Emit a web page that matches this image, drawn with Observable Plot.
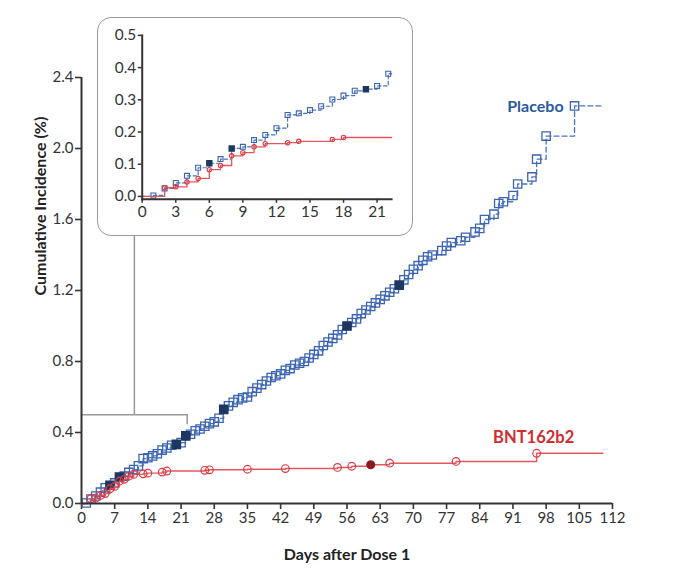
<!DOCTYPE html>
<html><head><meta charset="utf-8">
<script src="https://cdn.jsdelivr.net/npm/d3@7"></script>
<script src="https://cdn.jsdelivr.net/npm/@observablehq/plot@0.6"></script>
<style>
body{margin:0;background:#fff;}
#wrap{position:relative;width:682px;height:588px;font-family:Lato,sans-serif;}
#inset{position:absolute;left:97px;top:17px;width:316px;height:219px;background:#fff;border:1.5px solid #9a9a9a;border-radius:14px;box-sizing:border-box;}
#inset svg{position:absolute;left:-1.5px;top:-1.5px;}
</style></head>
<body><div id="wrap"><div id="main"></div><div id="inset"></div></div>
<script>
// ---- data ----
const placeboDays = [1,2,3,4,5,6,7,8,9,10,11,12,13,14,15,16,17,18,19,20,21,22,23,24,25,26,27,28,29,30,31,32,33,34,35,36,37,38,39,40,41,42,43,44,45,46,47,48,49,50,51,52,53,54,55,56,57,58,59,60,61,62,63,64,65,66,67,68,69,70,71,72,73,74,76,77,78,80,81,83,84,85,87,88,89,91,92,95,96,98,104];
const placeboValues = [0.003,0.025,0.042,0.064,0.089,0.103,0.116,0.149,0.154,0.175,0.191,0.212,0.253,0.258,0.268,0.28,0.301,0.313,0.328,0.333,0.343,0.381,0.39,0.41,0.42,0.435,0.45,0.46,0.48,0.53,0.55,0.57,0.585,0.595,0.60,0.63,0.65,0.67,0.69,0.71,0.72,0.73,0.75,0.76,0.78,0.79,0.80,0.82,0.84,0.86,0.89,0.91,0.93,0.95,0.98,1.0,1.02,1.04,1.07,1.09,1.11,1.13,1.15,1.17,1.19,1.21,1.23,1.26,1.29,1.32,1.34,1.37,1.39,1.40,1.425,1.45,1.47,1.48,1.50,1.53,1.55,1.60,1.63,1.69,1.70,1.735,1.80,1.84,1.94,2.07,2.24];
const placeboFilledMain = [6,8,20,22,30,56,67];
const placeboFilledInset = [6,8,20];
const bntDays = [2,3,4,5,6,7,8,9,10,11,13,14,17,18,26,27,35,43,54,57,61,65,79,96];
const bntValues = [0.027,0.030,0.045,0.056,0.083,0.096,0.126,0.136,0.154,0.164,0.167,0.171,0.177,0.183,0.187,0.19,0.193,0.197,0.203,0.21,0.218,0.227,0.237,0.283];
const bntFilledMain = [61];
const followUpEnd = 110;
const xTicksMain = [0,7,14,21,28,35,42,49,56,63,70,77,84,91,98,105,112];
const yTicksMain = [0,0.4,0.8,1.2,1.6,2.0,2.4];
const xTicksInset = [0,3,6,9,12,15,18,21];
const yTicksInset = [0,0.1,0.2,0.3,0.4,0.5];
const insetX = [0,22.3];
const insetY = [0,0.5];

// ---- build tables ----
const placebo = placeboDays.map((d,i)=>({day:d,value:placeboValues[i]}));
const bnt = bntDays.map((d,i)=>({day:d,value:bntValues[i]}));
function lineData(pts,end){
  return [{day:0,value:0},...pts,{day:end,value:pts[pts.length-1].value}];
}
function clipTo(pts,end){
  const inside = pts.filter(p=>p.day<=end);
  return lineData(inside,end);
}
const BLUE="#3b64b3", BLUE_LINE="#4a74bf", NAVY="#1d3763", RED="#dc3a40", RED_LINE="#e4585d", DARKRED="#8a1c1c", AX="#333";
const font = "Lato, 'Open Sans', sans-serif";

const main = Plot.plot({
  width:682, height:588,
  marginLeft:81, marginRight:70, marginTop:77, marginBottom:85,
  style:{fontFamily:font, fontSize:"15px", color:AX, background:"#fff", overflow:"visible"},
  x:{domain:[0,112]},
  y:{domain:[0,2.4]},
  marks:[
    Plot.axisX({ticks:xTicksMain, tickSize:6, tickPadding:3, label:null, stroke:AX, strokeWidth:1.6, fill:AX, fontSize:15, tickFormat:d=>String(d)}),
    Plot.axisY({ticks:yTicksMain, tickSize:6, tickPadding:2, label:null, stroke:AX, strokeWidth:1.6, fill:AX, fontSize:15, tickFormat:d=>d.toFixed(1)}),
    // zoom bracket and connector to inset
    Plot.line([[insetX[0],insetY[1]],[insetX[1],insetY[1]],[insetX[1],insetY[1]-0.05]], {stroke:"#9a9a9a", strokeWidth:1.5}),
    Plot.ruleX([(insetX[0]+insetX[1])/2], {y1:insetY[1], y2:2.4, stroke:"#9a9a9a", strokeWidth:1.5}),
    // placebo
    Plot.line(lineData(placebo,followUpEnd), {x:"day", y:"value", curve:"step-after", stroke:BLUE_LINE, strokeWidth:1.3, strokeDasharray:"5,3"}),
    Plot.dot(placebo.filter(p=>!placeboFilledMain.includes(p.day)), {x:"day", y:"value", symbol:"square", r:4.7, stroke:BLUE, strokeWidth:1.3, fill:"none"}),
    Plot.dot(placebo.filter(p=>placeboFilledMain.includes(p.day)), {x:"day", y:"value", symbol:"square", r:4.7, stroke:NAVY, strokeWidth:1.3, fill:NAVY}),
    // BNT162b2
    Plot.line(lineData(bnt,followUpEnd), {x:"day", y:"value", curve:"step-after", stroke:RED_LINE, strokeWidth:1.4}),
    Plot.dot(bnt.filter(p=>!bntFilledMain.includes(p.day)), {x:"day", y:"value", r:3.8, stroke:RED, strokeWidth:1.2, fill:"none"}),
    Plot.dot(bnt.filter(p=>bntFilledMain.includes(p.day)), {x:"day", y:"value", r:3.8, stroke:DARKRED, fill:DARKRED}),
    // axis lines
    Plot.ruleY([0], {stroke:AX, strokeWidth:2}),
    Plot.ruleX([0], {stroke:AX, strokeWidth:2}),
    // series labels
    Plot.text([placebo[placebo.length-1]], {x:"day", y:"value", text:()=>"Placebo", textAnchor:"end", dx:-11, dy:1, fill:"#2c5aa0", fontWeight:"bold", fontSize:16}),
    Plot.text([bnt[bnt.length-1]], {x:"day", y:"value", text:()=>"BNT162b2", textAnchor:"middle", dx:-3, dy:-16, fill:"#d22b31", fontWeight:"bold", fontSize:16.5}),
    // axis titles
    Plot.text(["Cumulative Incidence (%)"], {frameAnchor:"left", dx:-41, dy:5, rotate:-90, fill:"#222", fontWeight:"bold", fontSize:16}),
    Plot.text(["Days after Dose 1"], {frameAnchor:"bottom", dx:0, dy:56, fill:"#222", fontWeight:"bold", fontSize:16})
  ]
});
document.getElementById("main").appendChild(main);

const inset = Plot.plot({
  width:316, height:219,
  marginLeft:45, marginRight:20, marginTop:18, marginBottom:36,
  style:{fontFamily:font, fontSize:"15.5px", color:AX, background:"transparent", overflow:"visible"},
  x:{domain:insetX},
  y:{domain:[insetY[0]-0.009, insetY[1]]},
  marks:[
    Plot.axisX({ticks:xTicksInset, tickSize:4, tickPadding:3, label:null, stroke:AX, strokeWidth:1.5, fill:AX, fontSize:15.5, tickFormat:d=>String(d)}),
    Plot.axisY({ticks:yTicksInset, tickSize:4, tickPadding:2, label:null, stroke:AX, strokeWidth:1.5, fill:AX, fontSize:15.5, tickFormat:d=>d.toFixed(1)}),
    Plot.line(clipTo(placebo,insetX[1]), {x:"day", y:"value", curve:"step-after", stroke:BLUE_LINE, strokeWidth:1.2, strokeDasharray:"3.5,2.5"}),
    Plot.dot(placebo.filter(p=>p.day<=insetX[1] && !placeboFilledInset.includes(p.day)), {x:"day", y:"value", symbol:"square", r:2.8, stroke:BLUE, strokeWidth:1.1, fill:"none"}),
    Plot.dot(placebo.filter(p=>p.day<=insetX[1] && placeboFilledInset.includes(p.day)), {x:"day", y:"value", symbol:"square", r:2.8, stroke:NAVY, fill:NAVY}),
    Plot.line(clipTo(bnt,insetX[1]), {x:"day", y:"value", curve:"step-after", stroke:RED_LINE, strokeWidth:1.3}),
    Plot.dot(bnt.filter(p=>p.day<=insetX[1]), {x:"day", y:"value", r:2.2, stroke:RED, strokeWidth:1.1, fill:"none"}),
    Plot.frame({anchor:"bottom", stroke:AX, strokeWidth:2}),
    Plot.frame({anchor:"left", stroke:AX, strokeWidth:2})
  ]
});
document.getElementById("inset").appendChild(inset);
</script>
</body></html>
